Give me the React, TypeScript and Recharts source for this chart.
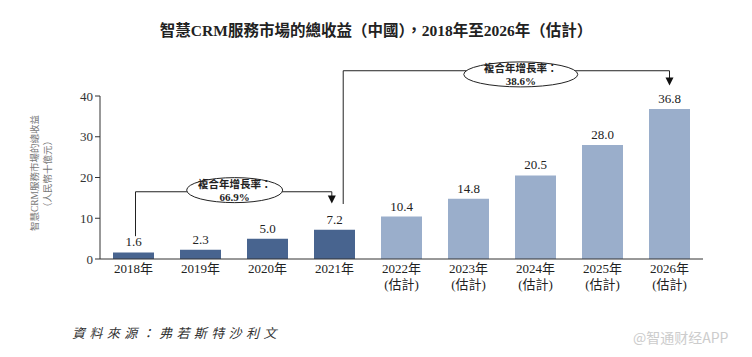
import { BarChart, Bar, XAxis, YAxis, Cell, LabelList, ReferenceLine, ReferenceDot, Customized } from "recharts";

const years = ["2018年", "2019年", "2020年", "2021年", "2022年", "2023年", "2024年", "2025年", "2026年"];
const subLabels = ["", "", "", "", "(估計)", "(估計)", "(估計)", "(估計)", "(估計)"];
const revenue = [1.6, 2.3, 5.0, 7.2, 10.4, 14.8, 20.5, 28.0, 36.8];
const yTicks = [0, 10, 20, 30, 40];
const cagrLabels = ["66.9%", "38.6%"];

const FONT = "'Liberation Serif', 'Noto Sans CJK TC', serif";
const DARK = "#48648f";
const LIGHT = "#9aaecb";

const data = years.map((y, i) => ({ year: y, sub: subLabels[i], value: revenue[i], idx: i, estimate: subLabels[i] !== "" }));

function YearTick({ x, y, payload, index }: any) {
  return (
    <g>
      <text x={x} y={y} dy={6} textAnchor="middle" fontSize={13} fill="#222" fontFamily={FONT}>{payload.value}</text>
      {subLabels[index] && (
        <text x={x} y={y} dy={22} textAnchor="middle" fontSize={13} fill="#222" fontFamily={FONT}>{subLabels[index]}</text>
      )}
    </g>
  );
}

function cagrBubble(text: string, rx: number, ry: number) {
  return (props: any) => {
    const { cx, cy } = props;
    return (
      <g>
        <ellipse cx={cx} cy={cy} rx={rx} ry={ry} fill="#fff" stroke="#222" strokeWidth={1} />
        <text x={cx} y={cy - 2} textAnchor="middle" fontSize={10.5} fontWeight="bold" fill="#222" fontFamily="'Noto Sans CJK TC', sans-serif">複合年增長率：</text>
        <text x={cx} y={cy + 11} textAnchor="middle" fontSize={11} fontWeight="bold" fill="#222" fontFamily={FONT}>{text}</text>
      </g>
    );
  };
}

function arrowHead(props: any) {
  const { cx, cy } = props;
  return <polygon points={`${cx - 4},${cy - 8} ${cx + 4},${cy - 8} ${cx},${cy}`} fill="#111" />;
}

function Texts() {
  return (
    <g fontFamily={FONT}>
      <text x={376} y={36} textAnchor="middle" fontSize={15.5} fontWeight="bold" fill="#222">智慧CRM服務市場的總收益（中國），2018年至2026年（估計）</text>
      <text x={35} y={173} transform="rotate(-90 35 173)" textAnchor="middle" dominantBaseline="central" fontSize={9.5} fill="#777">智慧CRM服務市場的總收益</text>
      <text x={48} y={174} transform="rotate(-90 48 174)" textAnchor="middle" dominantBaseline="central" fontSize={9.5} fill="#777">（人民幣十億元）</text>
      <text x={72} y={338} fontSize={13} fontStyle="italic" letterSpacing={4.4} fill="#333">資料來源：弗若斯特沙利文</text>
      <text x={633} y={343} fontSize={14} fill="#ccc" fontFamily="'Noto Sans CJK SC', sans-serif">@智通财经APP</text>
    </g>
  );
}

export default function App() {
  return (
    <div style={{ position: "absolute", left: 0, top: 0, width: 752, height: 357, background: "#fff" }}>
      <BarChart width={752} height={357} data={data} margin={{ top: 96, right: 49, bottom: 58, left: 60 }}>
        <XAxis xAxisId="cat" dataKey="year" height={40} interval={0} tickLine={false} axisLine={{ stroke: "#333" }} tick={<YearTick />} />
        <XAxis xAxisId="num" dataKey="idx" type="number" domain={[-0.5, 8.5]} allowDataOverflow hide />
        <YAxis width={40} domain={[0, 40]} ticks={yTicks} interval={0} tickSize={5} tickLine={{ stroke: "#333" }} axisLine={{ stroke: "#333" }} tick={{ fontSize: 13, fill: "#333", fontFamily: FONT }} />
        <Bar xAxisId="cat" dataKey="value" barSize={41} isAnimationActive={false}>
          {data.map((d, i) => (
            <Cell key={i} fill={d.estimate ? LIGHT : DARK} />
          ))}
          <LabelList dataKey="value" position="top" offset={6} formatter={(v: any) => Number(v).toFixed(1)} style={{ fontSize: 13, fill: "#222", fontFamily: FONT }} />
        </Bar>

        {/* CAGR 2018-2021 */}
        <ReferenceLine xAxisId="num" segment={[{ x: 0.03, y: 5.6 }, { x: 0.03, y: 16.5 }]} stroke="#222" ifOverflow="visible" />
        <ReferenceLine xAxisId="num" segment={[{ x: 0.03, y: 16.5 }, { x: 2.96, y: 16.5 }]} stroke="#222" ifOverflow="visible" />
        <ReferenceLine xAxisId="num" segment={[{ x: 2.96, y: 16.5 }, { x: 2.96, y: 14.2 }]} stroke="#222" ifOverflow="visible" />
        <ReferenceDot xAxisId="num" x={2.96} y={13.6} ifOverflow="visible" shape={arrowHead} />
        <ReferenceDot xAxisId="num" x={1.51} y={16.9} ifOverflow="visible" shape={cagrBubble(cagrLabels[0], 48, 12.5)} />

        {/* CAGR 2021-2026 */}
        <ReferenceLine xAxisId="num" segment={[{ x: 3.13, y: 13.5 }, { x: 3.13, y: 46.2 }]} stroke="#222" ifOverflow="visible" />
        <ReferenceLine xAxisId="num" segment={[{ x: 3.13, y: 46.2 }, { x: 8.0, y: 46.2 }]} stroke="#222" ifOverflow="visible" />
        <ReferenceLine xAxisId="num" segment={[{ x: 8.0, y: 46.2 }, { x: 8.0, y: 43.5 }]} stroke="#222" ifOverflow="visible" />
        <ReferenceDot xAxisId="num" x={8.0} y={42.6} ifOverflow="visible" shape={arrowHead} />
        <ReferenceDot xAxisId="num" x={5.78} y={45.3} ifOverflow="visible" shape={cagrBubble(cagrLabels[1], 57, 12.5)} />

        <Customized component={<Texts />} />
      </BarChart>
    </div>
  );
}
